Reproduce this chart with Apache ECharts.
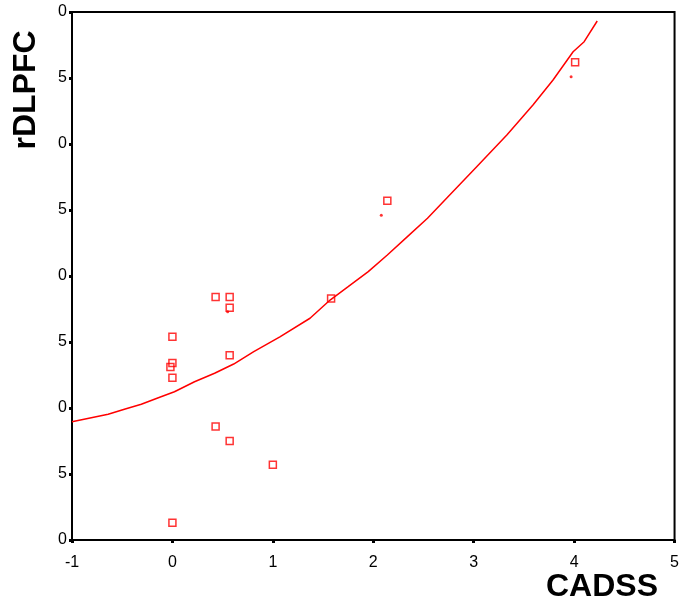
<!DOCTYPE html>
<html>
<head>
<meta charset="utf-8">
<title>rDLPFC vs CADSS</title>
<script src="https://cdn.jsdelivr.net/npm/echarts@6/dist/echarts.min.js"></script>
<style>
  html, body { margin: 0; padding: 0; background: #fff; }
  #chart { width: 682px; height: 601px; }
</style>
</head>
<body>
<div id="chart"></div>
<script>
// Observed cases: CADSS score and rDLPFC value
const cadss = [0, 0, -0.02, 0, 0, 0.43, 0.57, 0.57, 0.57, 0.43, 0.57, 1.0, 1.58, 2.14, 4.01];
const rdlpfc = [15.4, 13.4, 13.1, 12.3, 1.3, 18.4, 18.4, 17.6, 14.0, 8.6, 7.5, 5.7, 18.3, 25.7, 36.2];

// Small filled markers
const dotX = [0.55, 2.08, 3.97];
const dotY = [17.3, 24.6, 35.1];

// Fitted curve, sampled along its length
const fitX = [-1.0, -0.64, -0.47, -0.31, -0.14, 0.02, 0.22, 0.42, 0.61, 0.81, 1.07, 1.37, 1.57,
              1.75, 1.95, 2.14, 2.34, 2.54, 2.73, 3.03, 3.33, 3.59, 3.79, 3.99, 4.10, 4.23];
const fitY = [8.96, 9.52, 9.92, 10.28, 10.78, 11.23, 11.99, 12.63, 13.33, 14.27, 15.39, 16.80, 18.18,
              19.19, 20.33, 21.59, 22.98, 24.37, 25.89, 28.28, 30.68, 32.95, 34.85, 36.99, 37.75, 39.32];

// Axis ticks
const xTicks = { min: -1, max: 5, step: 1 };
const yTicks = { min: 0, max: 40, step: 5 };

const zip = (a, b) => a.map((v, i) => [v, b[i]]);

const chart = echarts.init(document.getElementById('chart'), null, { renderer: 'canvas' });
const FONT = 'Liberation Sans, Arial, sans-serif';

chart.setOption({
  animation: false,
  backgroundColor: '#ffffff',
  grid: { left: 72, right: 2, top: 12, bottom: 61, show: true, borderColor: '#000', borderWidth: 2, backgroundColor: 'transparent' },
  xAxis: {
    type: 'value', min: xTicks.min, max: xTicks.max, interval: xTicks.step,
    axisLine: { show: true, onZero: false, lineStyle: { color: '#000', width: 2 } },
    axisTick: { show: true, length: 3, lineStyle: { color: '#000', width: 3 } },
    axisLabel: { color: '#000', fontFamily: FONT, fontSize: 16, margin: 15,
                 alignMinLabel: 'center', alignMaxLabel: 'center' },
    splitLine: { show: false }
  },
  yAxis: {
    type: 'value', min: yTicks.min, max: yTicks.max, interval: yTicks.step,
    axisLine: { show: true, onZero: false, lineStyle: { color: '#000', width: 2 } },
    axisTick: { show: true, length: 3, lineStyle: { color: '#000', width: 3 } },
    axisLabel: { color: '#000', fontFamily: FONT, fontSize: 16, margin: 5,
                 formatter: v => String(Math.round(v) % 10) },
    splitLine: { show: false }
  },
  graphic: [
    { type: 'text', left: 546, top: 571,
      style: { text: 'CADSS', font: 'bold 32px ' + FONT, fill: '#000' } },
    { type: 'text', x: 26, y: 90, rotation: Math.PI / 2,
      style: { text: 'rDLPFC', font: 'bold 32px ' + FONT, fill: '#000', align: 'center', verticalAlign: 'middle' } }
  ],
  series: [
    { type: 'line', data: zip(fitX, fitY), showSymbol: false, symbol: 'none',
      lineStyle: { color: '#ff0000', width: 1.5 }, z: 2 },
    { type: 'scatter', data: zip(cadss, rdlpfc), symbol: 'rect', symbolSize: 7,
      itemStyle: { color: 'rgba(255,255,255,0)', borderColor: '#ff0000', borderWidth: 1.5 }, z: 3 },
    { type: 'scatter', data: zip(dotX, dotY), symbol: 'circle', symbolSize: 3,
      itemStyle: { color: '#ff0000' }, z: 3 }
  ]
});
</script>
</body>
</html>
